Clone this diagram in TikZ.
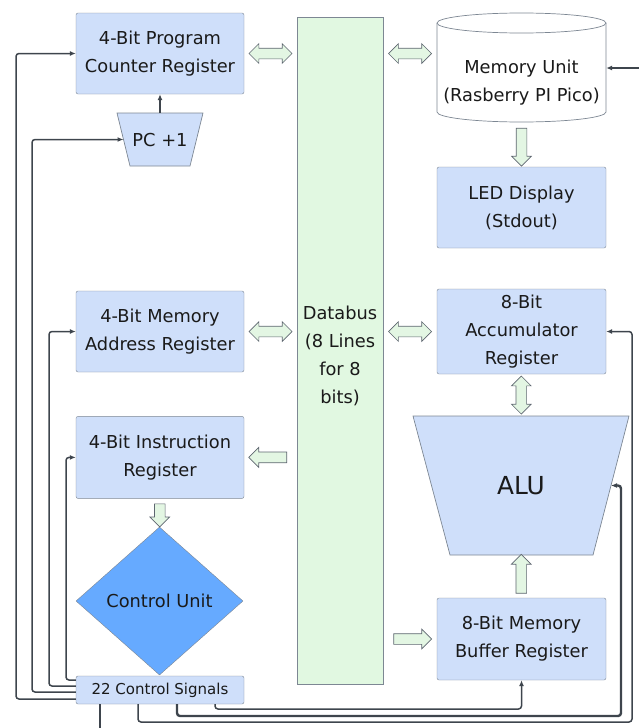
\documentclass[tikz,border=0pt]{standalone}
\usepackage{fontspec}
\setmainfont{DejaVu Sans}
\usetikzlibrary{arrows.meta,positioning,calc,shapes.geometric,shapes.arrows}
\definecolor{boxfill}{HTML}{CFDFFA}
\definecolor{boxedge}{HTML}{7D8793}
\definecolor{busfill}{HTML}{E1F8E1}
\definecolor{fatfill}{HTML}{E3F6E3}
\definecolor{fatedge}{HTML}{5E6670}
\definecolor{cufill}{HTML}{66AAFF}
\definecolor{wire}{HTML}{3E454D}
\definecolor{ink}{HTML}{1A1A1A}

\begin{document}
\begin{tikzpicture}[x=1pt,y=-1pt,>={Latex[length=6pt,width=5pt]},
  every node/.style={font=\fontsize{17.8}{28}\selectfont,text=ink},
  reg/.style={rectangle,rounded corners=2pt,draw=boxedge,fill=boxfill,align=center,inner sep=0pt,minimum width=168pt,minimum height=81pt},
  trapfill/.style={draw=boxedge,fill=boxfill,line width=.7pt},
  fatone/.style={single arrow,draw=fatedge,fill=fatfill,line width=.7pt,inner xsep=0pt,inner ysep=5pt,single arrow head extend=4.5pt,minimum height=#1},
  fattwo/.style={double arrow,draw=fatedge,fill=fatfill,line width=.7pt,inner xsep=0pt,inner ysep=5pt,double arrow head extend=4.5pt,minimum height=#1},
  sig/.style={draw=wire,line width=1.5pt,rounded corners=3pt},
  sigb/.style={sig,line width=2.4pt}]
\useasboundingbox (0,0) rectangle (638,728);
% left column
\node[reg] (pc) at (160,53.5) {4-Bit Program\\Counter Register};
\draw[trapfill] (117,113) -- (203,113) -- (190,166) -- (130,166) -- cycle;
\node[minimum width=86pt,minimum height=53pt,inner sep=0pt,below=19pt of pc] (pcinc) {PC +1};
\coordinate (pcincw) at (123.5,139.5);
\node[reg] (mar) at (160,331.5) {4-Bit Memory\\Address Register};
\node[reg,minimum height=82pt,below=44pt of mar] (ir) {4-Bit Instruction\\Register};
\node[diamond,draw=boxedge,fill=cufill,inner sep=0pt,aspect=1.13,minimum width=167pt,minimum height=148pt] (cu) at (159.5,601) {Control Unit};
\node[reg,minimum height=28pt,font=\fontsize{15}{18}\selectfont] (cs) at (160,690) {22 Control Signals};
% databus
\node[rectangle,draw=boxedge,fill=busfill,inner sep=0pt,minimum width=86pt,minimum height=667pt] (bus) at (340,350.5) {\raisebox{-5pt}[\height][\depth]{\begin{tabular}{@{}c@{}}Databus\\(8 Lines\\for 8\\bits)\end{tabular}}};
% right column
\draw[draw=boxedge,fill=white,line width=.7pt] (437,23) -- (437,112) arc[start angle=180,end angle=360,x radius=84.5pt,y radius=10pt] -- (606,23);
\draw[draw=boxedge,fill=white,line width=.7pt] (521.5,23) ellipse[x radius=84.5pt,y radius=10pt];
\node[align=center,minimum width=169pt,minimum height=78pt,inner sep=0pt] (mem) at (521.5,83) {Memory Unit\\(Rasberry PI Pico)};
\node[reg,minimum width=169pt] (led) at (521.5,207.5) {LED Display\\(Stdout)};
\node[reg,minimum width=169pt,minimum height=85pt] (acc) at (521.5,331.5) {8-Bit\\Accumulator\\Register};
\draw[trapfill] (413,416) -- (629,416) -- (593,555) -- (450,555) -- cycle;
\node[minimum width=216pt,minimum height=139pt,inner sep=0pt,font=\fontsize{24.8}{30}\selectfont] (alu) at (521,485.5) {ALU};
\coordinate (alue) at (611,485.5);
\node[reg,minimum width=169pt,minimum height=82pt] (mbr) at (521.5,639) {8-Bit Memory\\Buffer Register};

% data paths
\node[fattwo=43pt] (pcbus) at ($(pc.east)!.5!(pc.east-|bus.west)$) {};
\node[fattwo=43pt] (marbus) at ($(mar.east)!.5!(mar.east-|bus.west)$) {};
\node[fatone=38pt,rotate=180] (irbus) at ($(ir.east)!.5!(ir.east-|bus.west)$) {};
\node[fattwo=43pt] (membus) at ($(bus.east|-pc.east)!.5!(mem.west|-pc.east)$) {};
\node[fattwo=43pt] (accbus) at ($(acc.west)!.5!(acc.west-|bus.east)$) {};
\node[fatone=38pt] (mbrbus) at ($(mbr.west)!.5!(mbr.west-|bus.east)$) {};
\node[fatone=38pt,rotate=-90] (memled) at ($(mem.south)!.5!(led.north)$) {};
\node[fattwo=38pt,rotate=90] (accalu) at ($(acc.south)!.5!(alu.north)$) {};
\node[fatone=39pt,rotate=90] (mbralu) at ($(mbr.north)!.5!(alu.south)$) {};
\node[fatone=23pt,rotate=-90] (ircu) at ($(ir.south)!.5!(cu.north)$) {};

% control signals
\coordinate (l1) at (16,0);
\coordinate (l2) at (32,0);
\coordinate (l3) at (49,0);
\coordinate (l4) at (66,0);
\coordinate (r1) at (632,0);
\coordinate (r2) at (621,0);
\coordinate (b1) at (0,722);
\coordinate (b2) at (0,716);
\coordinate (b3) at (0,709);
\coordinate (out) at (100,732);
\coordinate (ext) at (642,68);
\draw[sigb,->] (pcinc.north) -- (pc.south);
\draw[sig,->] ([yshift=-9pt]cs.west) -| (l1|-pc.west) -- (pc.west);
\draw[sig,->] ([yshift=-2pt]cs.west) -| (l2|-pcincw) -- (pcincw);
\draw[sig,->] ([yshift=4pt]cs.west) -| (l3|-mar.west) -- (mar.west);
\draw[sig,->] ([yshift=10pt]cs.west) -| (l4|-ir.west) -- (ir.west);
\draw[sigb] (cs.south-|out) -- (out);
\draw[sig,->] ([xshift=-22pt]cs.south) |- (r1|-b1) |- (acc.east);
\draw[sigb,->] ([xshift=17pt]cs.south) |- (r2|-b2) |- (alue);
\draw[sig,->] ([xshift=55pt]cs.south) |- (mbr.south|-b3) -- (mbr.south);
\draw[sig,->] (ext) -- (mem.east|-ext);
\end{tikzpicture}
\end{document}
